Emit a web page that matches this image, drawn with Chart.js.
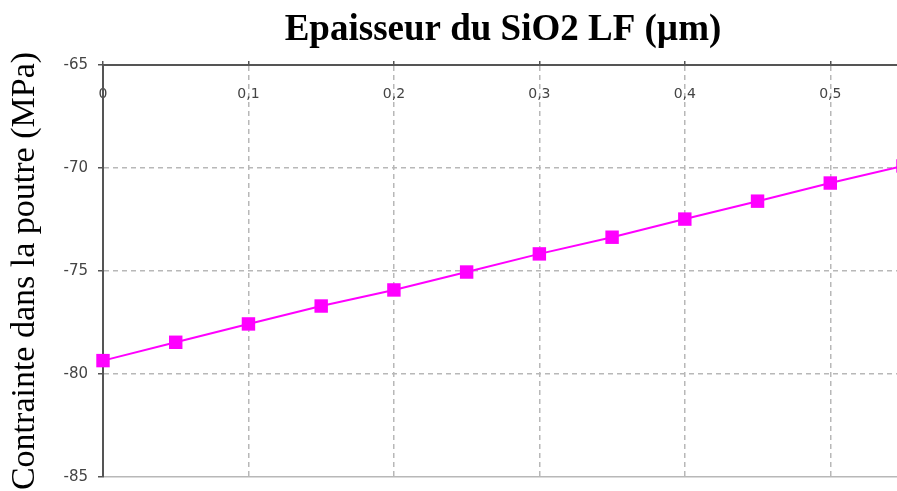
<!DOCTYPE html>
<html>
<head>
<meta charset="utf-8">
<script src="https://cdn.jsdelivr.net/npm/chart.js@4.4.1/dist/chart.umd.min.js"></script>
<style>
  html, body { margin: 0; padding: 0; background: #fff; overflow: hidden; }
  #wrap { width: 903px; height: 491px; }
</style>
</head>
<body>
<div id="wrap"><canvas id="c" width="903" height="491"></canvas></div>
<script>
// Data
const thickness = [0, 0.05, 0.1, 0.15, 0.2, 0.25, 0.3, 0.35, 0.4, 0.45, 0.5, 0.55];
const stress = [-79.35, -78.46, -77.57, -76.70, -75.92, -75.05, -74.17, -73.36, -72.48, -71.61, -70.73, -69.90];
const xTickValues = [0, 0.1, 0.2, 0.3, 0.4, 0.5];
const xTickLabels = ['0', '0,1', '0,2', '0,3', '0,4', '0,5'];
const yTickValues = [-85, -80, -75, -70, -65];
const yTickLabels = ['-85', '-80', '-75', '-70', '-65'];
const xTitle = 'Epaisseur du SiO2 LF (\u00b5m)';
const yTitle = 'Contrainte dans la poutre (MPa)';

const points = thickness.map((x, i) => ({ x: x, y: stress[i] }));

function labelFor(values, labels, v) {
  const i = values.findIndex(t => Math.abs(t - v) < 1e-9);
  return i >= 0 ? labels[i] : '';
}

new Chart(document.getElementById('c'), {
  type: 'line',
  data: {
    datasets: [{
      data: points,
      borderColor: '#ff00ff',
      backgroundColor: '#ff00ff',
      borderWidth: 2,
      pointStyle: 'rect',
      pointRadius: 9.5,
      pointHoverRadius: 9.5,
      pointBorderWidth: 0,
      tension: 0,
      clip: false
    }]
  },
  options: {
    responsive: false,
    animation: false,
    events: [],
    layout: { autoPadding: false, padding: { left: 0, right: 0, top: 0, bottom: 0 } },
    plugins: { legend: { display: false }, tooltip: { enabled: false }, title: { display: false } },
    scales: {
      x: {
        type: 'linear',
        position: 'top',
        min: 0,
        max: 0.55,
        afterFit: s => { s.height = 65; },
        ticks: {
          stepSize: 0.1,
          includeBounds: false,
          mirror: true,
          padding: 21,
          color: '#444',
          font: { family: 'DejaVu Sans', size: 14 },
          maxRotation: 0,
          autoSkip: false,
          callback: v => labelFor(xTickValues, xTickLabels, v)
        },
        grid: {
          color: '#b8b8b8',
          lineWidth: 1.5,
          tickLength: 4,
          tickColor: '#555',
          drawTicks: true
        },
        border: { display: true, color: '#555', width: 2, dash: [5, 4] },
        title: {
          display: true,
          text: xTitle,
          color: '#000',
          font: { family: 'Liberation Serif', size: 37, weight: 'bold' },
          padding: { top: 8, bottom: 0 }
        }
      },
      y: {
        type: 'linear',
        min: -85,
        max: -65,
        afterFit: s => { s.width = 103; s.paddingBottom = 14; s.paddingTop = 0; },
        ticks: {
          stepSize: 5,
          padding: 10,
          color: '#444',
          font: { family: 'DejaVu Sans', size: 15 },
          callback: v => labelFor(yTickValues, yTickLabels, v)
        },
        grid: {
          color: '#b8b8b8',
          lineWidth: 1.5,
          tickLength: 5,
          tickColor: '#555'
        },
        border: {
          display: true, color: '#555', width: 2,
          dash: ctx => (ctx.tick && ctx.tick.value === -85) ? [] : [5, 4]
        },
        title: {
          display: true,
          text: yTitle,
          color: '#000',
          font: { family: 'Liberation Serif', size: 34 },
          padding: { top: 5, bottom: 0 }
        }
      }
    }
  }
});
</script>
</body>
</html>
